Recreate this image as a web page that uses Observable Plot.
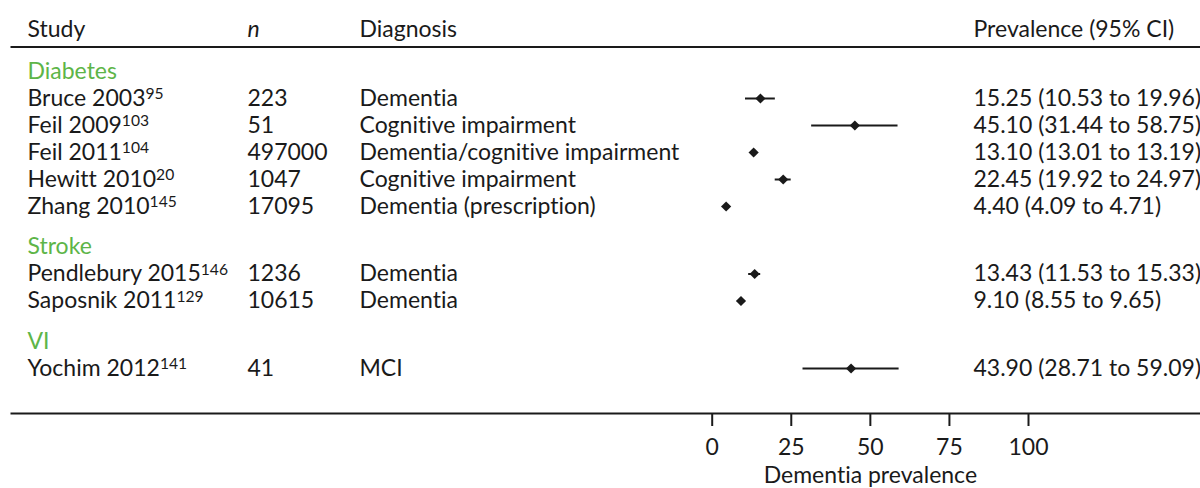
<!DOCTYPE html>
<html>
<head>
<meta charset="utf-8">
<script src="https://cdn.jsdelivr.net/npm/d3@7"></script>
<script src="https://cdn.jsdelivr.net/npm/@observablehq/plot@0.6"></script>
<style>
  html, body { margin: 0; padding: 0; background: #fff; }
  #chart svg { display: block; }
  #chart svg, #chart svg text { font-variant-ligatures: none; font-feature-settings: "liga" 0, "clig" 0, "dlig" 0; }
</style>
</head>
<body>
<div id="chart"></div>
<script>
// ---- data ----
const groupNames = ["Diabetes", "Stroke", "VI"];
const groups = ["Diabetes", "Diabetes", "Diabetes", "Diabetes", "Diabetes", "Stroke", "Stroke", "VI"];
const studies = ["Bruce 2003", "Feil 2009", "Feil 2011", "Hewitt 2010", "Zhang 2010", "Pendlebury 2015", "Saposnik 2011", "Yochim 2012"];
const refs = ["95", "103", "104", "20", "145", "146", "129", "141"];
const ns = ["223", "51", "497000", "1047", "17095", "1236", "10615", "41"];
const diagnoses = ["Dementia", "Cognitive impairment", "Dementia/cognitive impairment", "Cognitive impairment", "Dementia (prescription)", "Dementia", "Dementia", "MCI"];
const prevalence = [15.25, 45.10, 13.10, 22.45, 4.40, 13.43, 9.10, 43.90];
const lower = [10.53, 31.44, 13.01, 19.92, 4.09, 11.53, 8.55, 28.71];
const upper = [19.96, 58.75, 13.19, 24.97, 4.71, 15.33, 9.65, 59.09];
const columnHeaders = ["Study", "n", "Diagnosis", "Prevalence (95% CI)"];
const xTicks = [0, 25, 50, 75, 100];
const xLabel = "Dementia prevalence";

// ---- layout (row units) ----
const rows = [];
const headers = [];
let pos = 0;
groupNames.forEach((g, gi) => {
  if (gi > 0) pos += 1.5; else pos = 0;
  headers.push({name: g, row: pos});
  studies.forEach((s, i) => {
    if (groups[i] !== g) return;
    pos += 1;
    rows.push({
      study: s, ref: refs[i], n: ns[i], diag: diagnoses[i],
      est: prevalence[i], lo: lower[i], hi: upper[i], row: pos,
      label: `${prevalence[i].toFixed(2)} (${lower[i].toFixed(2)} to ${upper[i].toFixed(2)})`
    });
  });
});
const lastRow = pos;

const FONT = "Lato, 'Open Sans', sans-serif";
const FS = 23;
const INK = "#1a1a1a";
const GREEN = "#5db548";

const colDx = [16, 236, 348, 962]; // offsets from the left frame edge: study, n, diagnosis, prevalence

const chart = Plot.plot({
  width: 1200,
  height: 488,
  marginTop: 46.5,
  marginBottom: 75,
  marginLeft: 11,
  marginRight: 0,
  style: {fontFamily: FONT, fontSize: FS + "px", color: INK, background: "#fff"},
  x: {domain: [0, 100], range: [711.7, 1028]},
  y: {domain: [0, lastRow], range: [71, 368], axis: null},
  marks: [
    Plot.frame({anchor: "top", stroke: INK, strokeWidth: 2}),
    Plot.frame({anchor: "bottom", stroke: INK, strokeWidth: 2}),
    // column headers
    ...columnHeaders.map((h, i) => Plot.text([h], {
      frameAnchor: "top-left", lineAnchor: "middle", textAnchor: "start",
      dy: -17, dx: colDx[i],
      fill: INK, fontSize: FS, fontStyle: h === "n" ? "italic" : "normal"
    })),
    // group headers
    Plot.text(headers, {
      y: "row", text: "name", frameAnchor: "left", textAnchor: "start",
      dx: colDx[0], fill: GREEN, fontSize: FS
    }),
    // table columns
    Plot.text(rows, {y: "row", text: (d) => `${d.study}^${d.ref}`, frameAnchor: "left", textAnchor: "start", dx: colDx[0], fill: INK, fontSize: FS}),
    Plot.text(rows, {y: "row", text: "n", frameAnchor: "left", textAnchor: "start", dx: colDx[1], fill: INK, fontSize: FS}),
    Plot.text(rows, {y: "row", text: "diag", frameAnchor: "left", textAnchor: "start", dx: colDx[2], fill: INK, fontSize: FS}),
    Plot.text(rows, {y: "row", text: "label", frameAnchor: "left", textAnchor: "start", dx: colDx[3], fill: INK, fontSize: FS}),
    // CI and point estimates
    Plot.ruleY(rows, {y: "row", x1: "lo", x2: "hi", stroke: INK, strokeWidth: 2}),
    Plot.dot(rows, {y: "row", x: "est", symbol: "diamond2", r: 4.6, fill: INK, stroke: "none"}),
    // axis
    Plot.axisX({ticks: xTicks, tickSize: 13, tickPadding: 12, tickFormat: (d) => String(d), fontSize: FS, label: null, stroke: INK, strokeWidth: 2, fill: INK}),
    Plot.text([xLabel], {x: 50, frameAnchor: "bottom", lineAnchor: "middle", dy: 62.5, text: (d) => d, fill: INK, fontSize: FS})
  ]
});

// superscript references
d3.select(chart).selectAll("text").each(function () {
  const t = this.textContent;
  if (t.includes("^")) {
    const [name, ref] = t.split("^");
    this.textContent = name;
    d3.select(this).append("tspan")
      .attr("dy", "-0.42em")
      .attr("font-size", "0.68em")
      .text(ref);
  }
});
chart.style.fontVariantLigatures = "none";

document.getElementById("chart").appendChild(chart);
</script>
</body>
</html>
